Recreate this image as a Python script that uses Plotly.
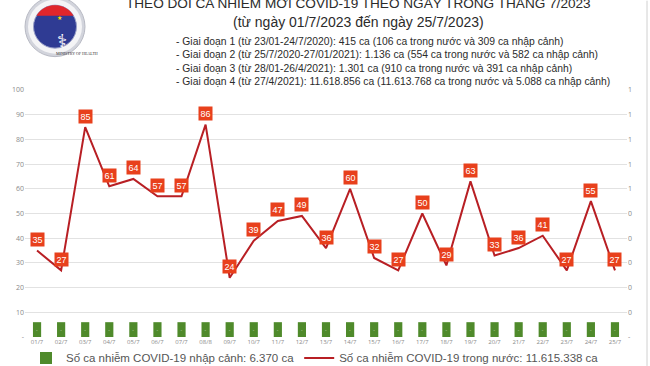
import numpy as np
import plotly.graph_objects as go

# ---------------- data ----------------
dates = ["01/7", "02/7", "03/7", "04/7", "05/7", "06/7", "07/7", "08/8", "09/7", "10/7",
         "11/7", "12/7", "13/7", "14/7", "15/7", "16/7", "17/7", "18/7", "19/7", "20/7",
         "21/7", "22/7", "23/7", "24/7", "25/7"]
domestic_cases = [35, 27, 85, 61, 64, 57, 57, 86, 24, 39,
                  47, 49, 36, 60, 32, 27, 50, 29, 63, 33,
                  36, 41, 27, 55, 27]
import_bar_values = [0.06, 0.06, 0.06, 0.06, 0.06, 0.06, 0.06, 0.06, 0.06, 0.06,
                     0.06, 0.06, 0.06, 0.06, 0.06, 0.06, 0.06, 0.06, 0.06, 0.06,
                     0.06, 0.06, 0.06, 0.06, 0.06]
left_tick_vals = [0, 10, 20, 30, 40, 50, 60, 70, 80, 90, 100]
left_tick_text = ["-", "10", "20", "30", "40", "50", "60", "70", "80", "90", "100"]
right_tick_vals = [0, 0.1, 0.2, 0.3, 0.4, 0.5, 0.6, 0.7, 0.8, 0.9, 1.0]
right_tick_text = ["-", "0", "0", "0", "0", "0", "1", "1", "1", "1", "1"]

title_line1 = "THEO DÕI CA NHIỄM MỚI COVID-19 THEO NGÀY TRONG THÁNG 7/2023"
title_line2 = "(từ ngày 01/7/2023 đến ngày 25/7/2023)"
phase_lines = [
    "- Giai đoạn 1 (từ 23/01-24/7/2020): 415 ca (106 ca trong nước và 309 ca nhập cảnh)",
    "- Giai đoạn 2 (từ 25/7/2020-27/01/2021): 1.136 ca (554 ca trong nước và 582 ca nhập cảnh)",
    "- Giai đoạn 3 (từ 28/01-26/4/2021): 1.301 ca (910 ca trong nước và 391 ca nhập cảnh)",
    "- Giai đoạn 4 (từ 27/4/2021): 11.618.856 ca (11.613.768 ca trong nước và 5.088 ca nhập cảnh)",
]
bar_name = "Số ca nhiễm COVID-19 nhập cảnh: 6.370 ca"
line_name = "Số ca nhiễm COVID-19 trong nước: 11.615.338 ca"

# ---------------- figure ----------------
W, H = 650, 366
ML, MR, MT, MB = 25, 23, 89.5, 29
PH = H - MT - MB
PW = W - ML - MR


def px_x(px):
    return (px - ML) / PW


def px_y(py):
    return (H - MB - py) / PH


LINE_COLOR = "#b81f24"
LABEL_BG = "#e8401c"
BAR_COLOR = "#4f8a2b"
SANS = "Liberation Sans, Arial, sans-serif"

fig = go.Figure()
fig.add_trace(go.Bar(
    x=dates, y=import_bar_values, name=bar_name, yaxis="y2",
    marker=dict(color=BAR_COLOR, line=dict(width=0)), width=0.34,
    text=["-"] * len(dates), textposition="inside", insidetextanchor="middle",
    textfont=dict(size=5, color="#c8dcb8"),
))
fig.add_trace(go.Scatter(
    x=dates, y=domestic_cases, name=line_name, mode="lines",
    line=dict(color=LINE_COLOR, width=2),
))

annotations = []
for d, v in zip(dates, domestic_cases):
    annotations.append(dict(
        x=d, y=v, xref="x", yref="y", text=str(v), showarrow=False,
        yshift=11, bgcolor=LABEL_BG, borderpad=1.5,
        font=dict(family=SANS, size=9, color="white"),
    ))

annotations.append(dict(x=px_x(358), y=px_y(3), xref="paper", yref="paper", text=title_line1,
                        showarrow=False, xanchor="center", yanchor="middle",
                        font=dict(family=SANS, size=13.6, color="#2b2b2b")))
annotations.append(dict(x=px_x(358), y=px_y(21), xref="paper", yref="paper", text=title_line2,
                        showarrow=False, xanchor="center", yanchor="middle",
                        font=dict(family=SANS, size=14, color="#2b2b2b")))
for i, t in enumerate(phase_lines):
    annotations.append(dict(x=px_x(174), y=px_y(41 + 13.3 * i), xref="paper", yref="paper", text=t,
                            showarrow=False, xanchor="left", yanchor="middle",
                            font=dict(family=SANS, size=10.35, color="#2b2b2b")))

# logo text pieces
logo_cx, logo_cy = px_x(55), px_y(26)
annotations.append(dict(x=logo_cx, y=logo_cy, xref="paper", yref="paper", text="⚕",
                        showarrow=False, yshift=-1, font=dict(family="DejaVu Sans", size=19, color="white")))
annotations.append(dict(x=logo_cx, y=logo_cy, xref="paper", yref="paper", text="★",
                        showarrow=False, yshift=15, font=dict(family="DejaVu Sans", size=6, color="#ffe000")))
annotations.append(dict(x=logo_cx, y=logo_cy, xref="paper", yref="paper", text="MINISTRY OF HEALTH",
                        showarrow=False, yshift=-23.5, borderpad=0,
                        font=dict(family="Liberation Serif", size=4, color="#333")))

shapes = []


def circle(r, fill, line_color=None, lw=0):
    return dict(type="circle", xref="paper", yref="paper", xsizemode="pixel", ysizemode="pixel",
                xanchor=logo_cx, yanchor=logo_cy, x0=-r, x1=r, y0=-r, y1=r,
                fillcolor=fill, line=dict(color=line_color or fill, width=lw), layer="above")


shapes.append(circle(30, "#d2d4dc", "#b8bac4", 1))
shapes.append(circle(27, "#f4f4f6"))
shapes.append(circle(21.5, "#2f3b93", "#9aa0c8", 1))
# red top segment of the disk
ang = np.linspace(np.arcsin(11 / 21.5), np.pi - np.arcsin(11 / 21.5), 24)
seg = " ".join(f"L{21.5*np.cos(a):.2f},{21.5*np.sin(a):.2f}" for a in ang)
seg_path = "M" + seg[1:] + " Z"
shapes.append(dict(type="path", xref="paper", yref="paper", xsizemode="pixel", ysizemode="pixel",
                   xanchor=logo_cx, yanchor=logo_cy, path=seg_path,
                   fillcolor="#e0262b", line=dict(width=0), layer="above"))
# right page border
shapes.append(dict(type="line", xref="paper", yref="paper", x0=px_x(647), x1=px_x(647),
                   y0=px_y(366), y1=px_y(0), line=dict(color="#d0d0d0", width=1)))

fig.update_layout(
    width=W, height=H,
    margin=dict(l=ML, r=MR, t=MT, b=MB, autoexpand=False),
    paper_bgcolor="white", plot_bgcolor="white",
    showlegend=True,
    legend=dict(orientation="h", x=px_x(26), y=px_y(358), xanchor="left", yanchor="middle",
                font=dict(family=SANS, size=11.5, color="#555555"),
                traceorder="normal", itemwidth=30, bgcolor="rgba(0,0,0,0)"),
    xaxis=dict(type="category", tickfont=dict(size=6, color="#8a8a8a"), showgrid=False,
               showline=False, ticks="", tickangle=0),
    yaxis=dict(range=[0, 100], tickvals=left_tick_vals, ticktext=left_tick_text,
               tickfont=dict(size=7, color="#8a8a8a"), gridcolor="#e2e2e2", gridwidth=1,
               zeroline=False, showline=False, ticks=""),
    yaxis2=dict(range=[0, 1], overlaying="y", side="right", tickvals=right_tick_vals,
                ticktext=right_tick_text, tickfont=dict(size=7, color="#8a8a8a"),
                showgrid=False, zeroline=False, showline=False, ticks=""),
    annotations=annotations, shapes=shapes,
    bargap=0.66,
)

fig.write_html("out.html", config={"displayModeBar": False},
               post_script="document.body.style.margin='0';")
